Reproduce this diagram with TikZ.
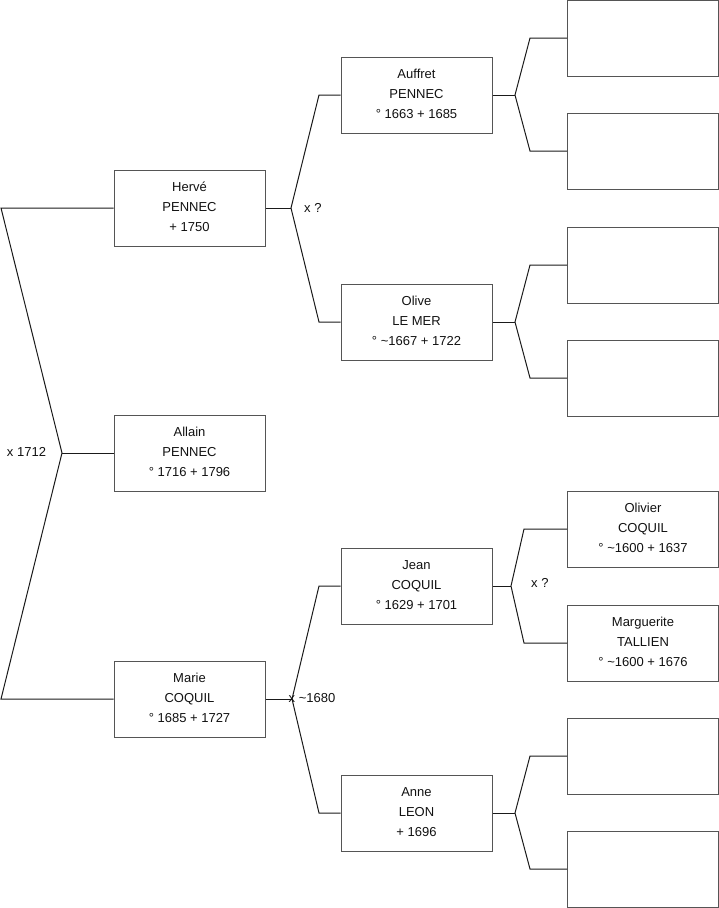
\documentclass[tikz,border=0pt]{standalone}
\usepackage{fontspec}
\setmainfont{Liberation Sans}
\usepackage{tikz}
\usetikzlibrary{positioning}
\definecolor{boxline}{HTML}{555555}
\definecolor{linkx}{HTML}{1A1A1A}
\definecolor{txt}{HTML}{111111}
\tikzset{
  person/.style={draw=boxline,line width=1pt,minimum width=151pt,minimum height=76pt,inner sep=0pt,align=center,text depth=2.5pt,font=\fontsize{13}{20}\selectfont,text=txt},
  link/.style={linkx,line width=1pt,line join=miter},
  wed/.style={font=\fontsize{13}{15}\selectfont,text=txt,inner sep=0pt}
}

\begin{document}
\begin{tikzpicture}[x=1pt,y=-1pt]
\useasboundingbox (0,0) rectangle (719,908);
% first column
\node[person] (herve) at (189.5,208) {Hervé\\PENNEC\\+ 1750};
\node[person] (allain) at (189.5,453) {Allain\\PENNEC\\° 1716 + 1796};
\node[person] (marie) at (189.5,699) {Marie\\COQUIL\\° 1685 + 1727};
% second column
\node[person] (auffret) at (416.5,95) {Auffret\\PENNEC\\° 1663 + 1685};
\node[person] (olive) at (416.5,322) {Olive\\LE MER\\° \textasciitilde 1667 + 1722};
\node[person] (jean) at (416.5,586) {Jean\\COQUIL\\° 1629 + 1701};
\node[person] (anne) at (416.5,813) {Anne\\LEON\\+ 1696};
% third column
\node[person] (p1) at (643,38) {};
\node[person] (p2) at (643,151) {};
\node[person] (p3) at (643,265) {};
\node[person] (p4) at (643,378) {};
\node[person] (olivier) at (643,529) {Olivier\\COQUIL\\° \textasciitilde 1600 + 1637};
\node[person] (marguerite) at (643,643) {Marguerite\\TALLIEN\\° \textasciitilde 1600 + 1676};
\node[person] (p7) at (643,756) {};
\node[person] (p8) at (643,869) {};

% forks
\coordinate (f0) at (62,453); \coordinate (f0a) at (1,208); \coordinate (f0b) at (1,699);
\draw[link] (herve.west) -- (f0a) -- (f0) -- (f0b) -- (marie.west);
\draw[link] (f0) -- (allain.west);
\node[wed] (w0) at (26.5,452) {x 1712};

\coordinate (f1) at (291,208); \coordinate (f1a) at (319,95); \coordinate (f1b) at (319,322);
\draw[link] (herve.east) -- (f1);
\draw[link] (auffret.west) -- (f1a) -- (f1) -- (f1b) -- (olive.west);
\node[wed,anchor=west] (w1) at (304,208) {x ?};

\coordinate (f2) at (292,699); \coordinate (f2a) at (319,586); \coordinate (f2b) at (319,813);
\draw[link] (marie.east) -- (f2);
\draw[link] (jean.west) -- (f2a) -- (f2) -- (f2b) -- (anne.west);
\node[wed,anchor=west] (w2) at (288.5,698) {x \textasciitilde 1680};

\coordinate (f3) at (515,95); \coordinate (f3a) at (530,38); \coordinate (f3b) at (530,151);
\draw[link] (auffret.east) -- (f3);
\draw[link] (p1.west) -- (f3a) -- (f3) -- (f3b) -- (p2.west);

\coordinate (f4) at (515,322); \coordinate (f4a) at (530,265); \coordinate (f4b) at (530,378);
\draw[link] (olive.east) -- (f4);
\draw[link] (p3.west) -- (f4a) -- (f4) -- (f4b) -- (p4.west);

\coordinate (f5) at (511,586); \coordinate (f5a) at (524,529); \coordinate (f5b) at (524,643);
\draw[link] (jean.east) -- (f5);
\draw[link] (olivier.west) -- (f5a) -- (f5) -- (f5b) -- (marguerite.west);
\node[wed,anchor=west] (w5) at (531,583) {x ?};

\coordinate (f6) at (515,813); \coordinate (f6a) at (530,756); \coordinate (f6b) at (530,869);
\draw[link] (anne.east) -- (f6);
\draw[link] (p7.west) -- (f6a) -- (f6) -- (f6b) -- (p8.west);
\end{tikzpicture}
\end{document}
